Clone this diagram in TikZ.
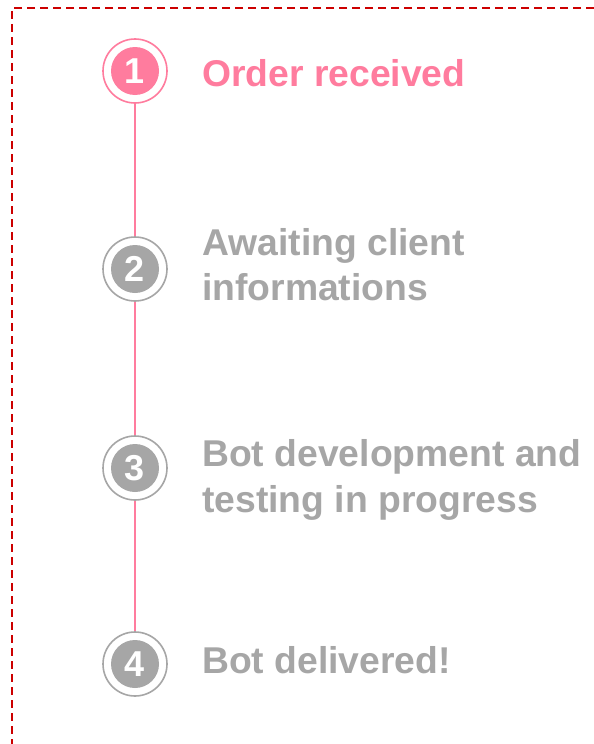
\documentclass[tikz,border=0pt]{standalone}
\usepackage{fontspec}
\setmainfont{Liberation Sans}
\definecolor{pinkc}{HTML}{FF7C9E}
\definecolor{greyc}{HTML}{A6A6A6}
\definecolor{borderc}{HTML}{CC0000}
\begin{document}
\begin{tikzpicture}[x=1pt,y=-1pt,
  ring/.style={circle,draw=#1,line width=1.6pt,fill=white,minimum size=64pt,inner sep=0pt},
  disc/.style={circle,fill=#1,minimum size=48pt,inner sep=0pt,text=white,font=\fontsize{36}{40}\selectfont\bfseries},
  lbl/.style={anchor=base west,inner sep=0pt,text=#1,font=\fontsize{37.3}{46}\selectfont\bfseries},
  conn/.style={draw=pinkc,line width=2pt}]
\useasboundingbox (0,0) rectangle (594,744);
\fill[white] (0,0) rectangle (594,744);
\draw[borderc,line width=1.8pt,dash pattern=on 8pt off 5pt] (594,8) -- (12,8) -- (12,744);
% rings
\node[ring=pinkc] (r1) at (135,71) {};
\node[ring=greyc] (r2) at (135,269) {};
\node[ring=greyc] (r3) at (135,468) {};
\node[ring=greyc] (r4) at (135,664) {};
% connectors
\draw[conn] (r1.south) -- (r2.north);
\draw[conn] (r2.south) -- (r3.north);
\draw[conn] (r3.south) -- (r4.north);
% discs
\node[disc=pinkc] (d1) at (r1.center) {1};
\node[disc=greyc] (d2) at (r2.center) {2};
\node[disc=greyc] (d3) at (r3.center) {3};
\node[disc=greyc] (d4) at (r4.center) {4};
% labels
\node[lbl=pinkc] (t1) at (202,86) {Order received};
\node[lbl=greyc] (t2a) at (202,255) {Awaiting client};
\node[lbl=greyc] (t2b) at (202,300) {informations};
\node[lbl=greyc] (t3a) at (202,466) {Bot development and};
\node[lbl=greyc] (t3b) at (202,512) {testing in progress};
\node[lbl=greyc] (t4) at (202,673) {Bot delivered!};
\end{tikzpicture}
\end{document}
